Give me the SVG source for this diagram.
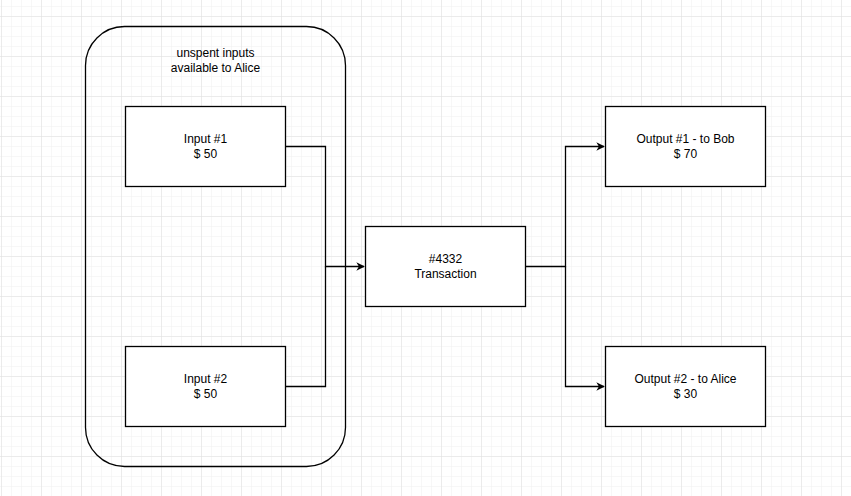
<svg xmlns="http://www.w3.org/2000/svg" width="851" height="496" viewBox="0 0 851 496">
<style>
.box{fill:#fff;stroke:#000;stroke-width:1.3}
.cont{fill:none;stroke:#000;stroke-width:1.3}
.edge{fill:none;stroke:#000;stroke-width:1.3}
text{font-family:"Liberation Sans",Arial,sans-serif;font-size:12px;fill:#000;text-anchor:middle}
</style>
<defs>
<pattern id="minor" x="1" y="16" width="10" height="10" patternUnits="userSpaceOnUse">
<path d="M0 0H10M0 0V10" fill="none" stroke="#f0f0f0" stroke-width="1"/>
</pattern>
<pattern id="major" x="1" y="16" width="40" height="40" patternUnits="userSpaceOnUse">
<path d="M0 0H40M0 0V40" fill="none" stroke="#e0e0e0" stroke-width="1"/>
</pattern>
<marker id="arrow" viewBox="0 0 10 10" refX="9" refY="5" markerWidth="8.5" markerHeight="8.5" markerUnits="userSpaceOnUse" orient="auto">
<path d="M0 0L10 5L0 10L3 5Z" fill="#000"/>
</marker>
</defs>
<rect width="851" height="496" fill="#fff"/>
<rect width="851" height="496" fill="url(#minor)"/>
<rect width="851" height="496" fill="url(#major)"/>
<g id="container">
<rect class="cont" x="85.5" y="26.5" width="260" height="440" rx="39" ry="39"/>
<text x="215.5" y="57">unspent inputs</text>
<text x="215.5" y="72">available to Alice</text>
</g>
<g id="connectors">
<path class="edge" d="M285.5 146.5H325.5V266.5H364" marker-end="url(#arrow)"/>
<path class="edge" d="M285.5 386.5H325.5V266.5"/>
<path class="edge" d="M525.5 266.5H565.5V146.5H604" marker-end="url(#arrow)"/>
<path class="edge" d="M565.5 266.5V386.5H604" marker-end="url(#arrow)"/>
</g>
<g id="input1">
<rect class="box" x="125.5" y="106.5" width="160" height="80"/>
<text x="205.5" y="143">Input #1</text>
<text x="205.5" y="158">$ 50</text>
</g>
<g id="input2">
<rect class="box" x="125.5" y="346.5" width="160" height="80"/>
<text x="205.5" y="383">Input #2</text>
<text x="205.5" y="398">$ 50</text>
</g>
<g id="transaction">
<rect class="box" x="365.5" y="226.5" width="160" height="80"/>
<text x="445.5" y="263">#4332</text>
<text x="445.5" y="278">Transaction</text>
</g>
<g id="output1">
<rect class="box" x="605.5" y="106.5" width="160" height="80"/>
<text x="685.5" y="143">Output #1 - to Bob</text>
<text x="685.5" y="158">$ 70</text>
</g>
<g id="output2">
<rect class="box" x="605.5" y="346.5" width="160" height="80"/>
<text x="685.5" y="383">Output #2 - to Alice</text>
<text x="685.5" y="398">$ 30</text>
</g>
</svg>
